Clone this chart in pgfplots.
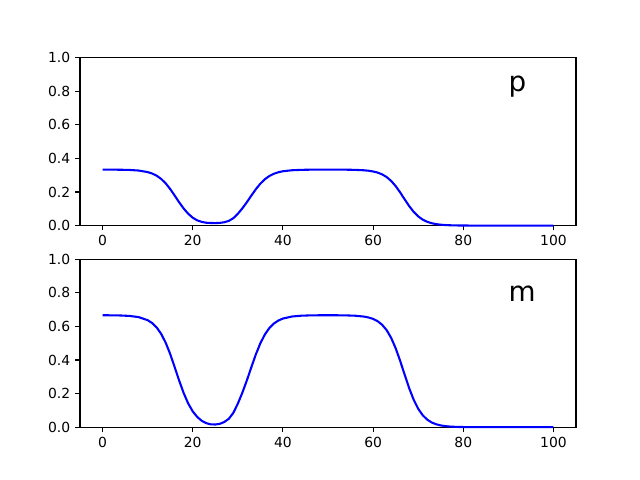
\documentclass[border=0pt]{standalone}
\usepackage{pgfplots}
\pgfplotsset{compat=1.18}
\usepackage{pgfplotstable}
\usepackage{fontspec}
\setmainfont{DejaVu Sans}

% x, p, m
\pgfplotstableread{
x p m
0 0.3332 0.6664
2 0.3330 0.6660
4 0.3325 0.6650
6 0.3312 0.6623
8 0.3277 0.6553
10 0.3186 0.6371
11 0.3100 0.6199
12 0.2970 0.5939
13 0.2778 0.5556
14 0.2515 0.5029
15 0.2178 0.4356
16 0.1788 0.3576
17 0.1385 0.2770
18 0.1013 0.2026
19 0.0705 0.1409
20 0.0470 0.0940
21 0.0310 0.0610
22 0.0220 0.0380
23 0.0170 0.0240
24 0.0155 0.0170
25 0.0150 0.0160
26 0.0160 0.0200
27 0.0200 0.0310
28 0.0280 0.0500
29 0.0440 0.0850
30 0.0700 0.1400
31 0.1025 0.2050
32 0.1392 0.2783
33 0.1786 0.3571
34 0.2167 0.4334
35 0.2498 0.4996
36 0.2760 0.5520
37 0.2953 0.5905
38 0.3087 0.6173
39 0.3176 0.6351
40 0.3234 0.6467
42 0.3294 0.6588
44 0.3318 0.6636
46 0.3328 0.6655
48 0.3331 0.6662
50 0.3333 0.6665
52 0.3331 0.6662
54 0.3328 0.6655
56 0.3318 0.6636
58 0.3292 0.6584
59 0.3266 0.6531
60 0.3223 0.6446
61 0.3156 0.6311
62 0.3050 0.6099
63 0.2890 0.5780
64 0.2661 0.5321
65 0.2353 0.4705
66 0.1976 0.3951
67 0.1563 0.3126
68 0.1163 0.2325
69 0.0818 0.1635
70 0.0549 0.1097
71 0.0356 0.0712
72 0.0226 0.0451
73 0.0141 0.0281
74 0.0087 0.0174
75 0.0053 0.0106
76 0.0033 0.0065
77 0.0020 0.0039
78 0.0012 0.0024
79 0.0007 0.0014
80 0.0005 0.0009
82 0.0002 0.0003
85 0.0001 0.0001
90 0 0
95 0 0
100 0 0
}\pmtable

\pgfplotsset{
  panel/.style={
    scale only axis,
    width=357.12pt, height=120.96pt,
    xmin=-5, xmax=105, ymin=0, ymax=1,
    xtick={0,20,40,60,80,100},
    ytick={0,0.2,0.4,0.6,0.8,1.0},
    yticklabel style={/pgf/number format/.cd, fixed, fixed zerofill, precision=1},
    /pgf/number format/assume math mode=true,
    tick align=outside, tick pos=left,
    major tick length=3.5pt,
    every tick/.style={black, line width=0.8pt},
    axis line style={line width=0.8pt},
    tick label style={font=\fontsize{10}{12}\selectfont},
    clip=false,
  },
}

\begin{document}
\begin{tikzpicture}[x=1pt, y=1pt]
  \useasboundingbox (0,0) rectangle (460.8,345.6);
  \begin{axis}[panel, at={(57.6pt,183.168pt)}, anchor=south west]
    \addplot[blue, line width=1.5pt] table[x=x, y=p] {\pmtable};
    \node[anchor=base west, inner sep=0pt, font=\fontsize{20}{24}\selectfont] at (axis cs:90,0.8) {p};
  \end{axis}
  \begin{axis}[panel, at={(57.6pt,38.016pt)}, anchor=south west]
    \addplot[blue, line width=1.5pt] table[x=x, y=m] {\pmtable};
    \node[anchor=base west, inner sep=0pt, font=\fontsize{20}{24}\selectfont] at (axis cs:90,0.75) {m};
  \end{axis}
\end{tikzpicture}
\end{document}
